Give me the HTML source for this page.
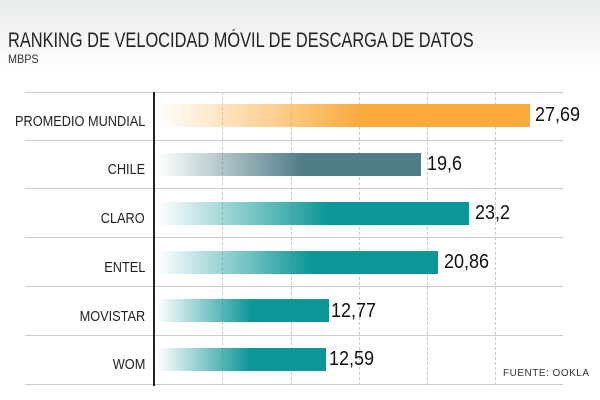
<!DOCTYPE html>
<html><head><meta charset="utf-8"><style>
body{margin:0;width:600px;height:400px;overflow:hidden;background:linear-gradient(#e9eced 0px,#f7f8f8 50px,#fff 70px);font-family:"Liberation Sans",sans-serif;position:relative}
.t{position:absolute;left:8px;top:29px;font-size:21px;color:#222;white-space:nowrap;transform:scaleX(0.78);transform-origin:left}
.s{position:absolute;left:8px;top:52px;font-size:12px;color:#333;transform:scaleX(0.9);transform-origin:left}
.h{position:absolute;left:25px;width:538px;height:1px;background:#ccc}
.v{position:absolute;top:92px;height:293px;border-left:1px dashed #c8c8c8}
.ax{position:absolute;left:153px;top:92px;height:294px;width:1.5px;background:#222}
.l{position:absolute;right:455px;font-size:15px;color:#222;white-space:nowrap;transform:scaleX(0.85);transform-origin:right}
.b{position:absolute;left:157px;height:23px}
.n{position:absolute;font-size:20px;color:#111;transform:scaleX(0.9);transform-origin:left}
.f{position:absolute;left:503px;top:368px;font-size:10px;color:#333;letter-spacing:.5px}
</style></head><body>
<div class="t">RANKING DE VELOCIDAD MÓVIL DE DESCARGA DE DATOS</div>
<div class="s">MBPS</div>
<div class="h" style="top:92px"></div><div class="h" style="top:140px"></div><div class="h" style="top:188px"></div><div class="h" style="top:237px"></div><div class="h" style="top:286px"></div><div class="h" style="top:335px"></div><div class="h" style="top:384px"></div>
<div class="v" style="left:222px"></div><div class="v" style="left:291px"></div><div class="v" style="left:359px"></div><div class="v" style="left:427px"></div><div class="v" style="left:495px"></div>
<div class="ax"></div>
<div class="l" style="top:113px">PROMEDIO MUNDIAL</div>
<div class="l" style="top:161px">CHILE</div>
<div class="l" style="top:210px">CLARO</div>
<div class="l" style="top:259px">ENTEL</div>
<div class="l" style="top:308px">MOVISTAR</div>
<div class="l" style="top:356px">WOM</div>
<div class="b" style="top:104px;width:373px;background:linear-gradient(90deg,rgba(251,170,60,0),#fbaa3c 55%)"></div>
<div class="b" style="top:153px;width:264px;background:linear-gradient(90deg,rgba(79,124,134,0),#507d88 55%)"></div>
<div class="b" style="top:202px;width:312px;background:linear-gradient(90deg,rgba(13,150,152,0),#0d9698 55%)"></div>
<div class="b" style="top:251px;width:281px;background:linear-gradient(90deg,rgba(13,150,152,0),#0d9698 55%)"></div>
<div class="b" style="top:299px;width:172px;background:linear-gradient(90deg,rgba(13,150,152,0),#0d9698 55%)"></div>
<div class="b" style="top:348px;width:169px;background:linear-gradient(90deg,rgba(13,150,152,0),#0d9698 55%)"></div>
<div class="n" style="left:535px;top:104px">27,69</div>
<div class="n" style="left:427px;top:153px">19,6</div>
<div class="n" style="left:475px;top:202px">23,2</div>
<div class="n" style="left:444px;top:251px">20,86</div>
<div class="n" style="left:331px;top:300px">12,77</div>
<div class="n" style="left:329px;top:348px">12,59</div>
<div class="f">FUENTE: OOKLA</div>
</body></html>
